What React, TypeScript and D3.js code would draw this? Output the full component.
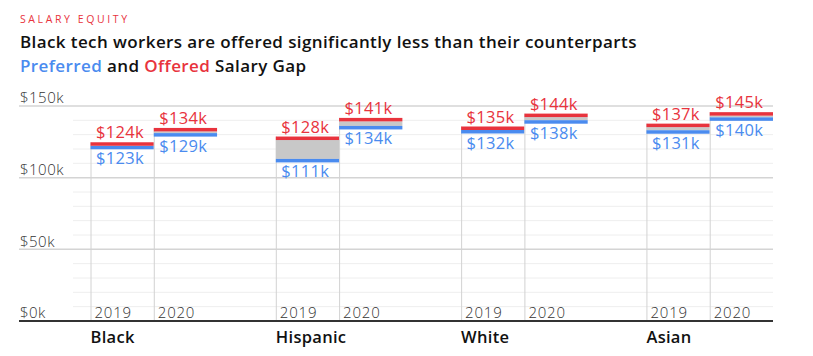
import React from "react";
import * as d3 from "d3";

const groups = ["Black", "Hispanic", "White", "Asian"];
const years = ["2019", "2020"];
// preferred (blue) and offered (red) salaries in $k, per group, [2019, 2020]
const preferred = [
  [123, 129],
  [111, 134],
  [132, 138],
  [131, 140],
];
const offered = [
  [124, 134],
  [128, 141],
  [135, 144],
  [137, 145],
];
const majorTicks = [0, 50, 100, 150];
const minorTicks = [10, 20, 30, 40, 60, 70, 80, 90, 110, 120, 130, 140];

const W = 813;
const H = 356;
const RED = "#e8333d";
const BLUE = "#4a8bef";
const GRAY = "#c8c8c8";
const FONT = "'Open Sans', Lato, sans-serif";

export default function App() {
  const y = d3.scaleLinear().domain([0, 150]).range([321, 106]);
  const x = d3.scaleBand<string>().domain(groups).range([90.5, 773]).paddingInner(0.317).paddingOuter(0);
  const xi = d3.scaleBand<string>().domain(years).range([0, x.bandwidth()]);
  const left = 19;
  const minorLeft = 73;
  const right = 773;
  const base = y(0);
  const RT = 3.5;
  const BT = 3.5;

  return (
    <svg width={W} height={H} style={{ position: "absolute", left: 0, top: 0 }} fontFamily={FONT}>
      <rect width={W} height={H} fill="#fff" />
      <text x={20} y={23} fontSize={10.5} fill={RED} letterSpacing={2.6} fontWeight={500}>SALARY EQUITY</text>
      <text x={20} y={48} fontSize={17} fill="#111" fontWeight={600} letterSpacing={0.4}>
        Black tech workers are offered significantly less than their counterparts
      </text>
      <text x={20} y={72} fontSize={17} fill="#111" fontWeight={600} letterSpacing={0.4}>
        <tspan fill={BLUE}>Preferred</tspan> and <tspan fill={RED}>Offered</tspan> Salary Gap
      </text>

      {minorTicks.map((t) => (
        <line key={"mi" + t} x1={minorLeft} x2={right} y1={y(t)} y2={y(t)} stroke="#eeeeee" strokeWidth={1} />
      ))}
      {majorTicks.filter((t) => t > 0).map((t) => (
        <line key={"ma" + t} x1={left} x2={right} y1={y(t)} y2={y(t)} stroke="#d4d4d4" strokeWidth={1.5} />
      ))}
      {majorTicks.map((t) => (
        <text key={"tl" + t} x={20} y={y(t) - 2.8} fontSize={15} fill="#333" fontWeight={300} letterSpacing={0.5}>
          {"$" + t + "k"}
        </text>
      ))}

      {groups.map((g, gi) => (
        <g key={g}>
          {years.map((yr, yi) => {
            const bx = (x(g) ?? 0) + (xi(yr) ?? 0);
            const bw = xi.bandwidth();
            const off = offered[gi][yi];
            const pref = preferred[gi][yi];
            const redTop = y(off) - 1;
            const redBot = redTop + RT;
            const blueTop = Math.max(y(pref) + 0.5 - BT, redBot);
            const blueBot = blueTop + BT;
            return (
              <g key={yr}>
                <line x1={bx + 0.5} x2={bx + 0.5} y1={redTop} y2={base} stroke="#d2d2d2" strokeWidth={1} />
                {blueTop > redBot && (
                  <rect x={bx} y={redBot} width={bw} height={blueTop - redBot} fill={GRAY} />
                )}
                <rect x={bx} y={blueTop} width={bw} height={BT} fill={BLUE} />
                <rect x={bx} y={redTop} width={bw} height={RT} fill={RED} />
                <text x={bx + 5.5} y={redTop - 4} fontSize={16.5} fill={RED} fontWeight={500} letterSpacing={0.3}>
                  {"$" + off + "k"}
                </text>
                <text x={bx + 5.5} y={blueBot + 15} fontSize={16.5} fill={BLUE} fontWeight={500} letterSpacing={0.3}>
                  {"$" + pref + "k"}
                </text>
                <text x={bx + 4} y={318} fontSize={15} fill="#333" fontWeight={300} letterSpacing={0.8}>
                  {yr}
                </text>
              </g>
            );
          })}
          <text x={x(g) ?? 0} y={343} fontSize={16.5} fill="#111" fontWeight={600} letterSpacing={0.3}>
            {g}
          </text>
        </g>
      ))}

      <line x1={left} x2={right} y1={base} y2={base} stroke="#333" strokeWidth={2} />
    </svg>
  );
}
